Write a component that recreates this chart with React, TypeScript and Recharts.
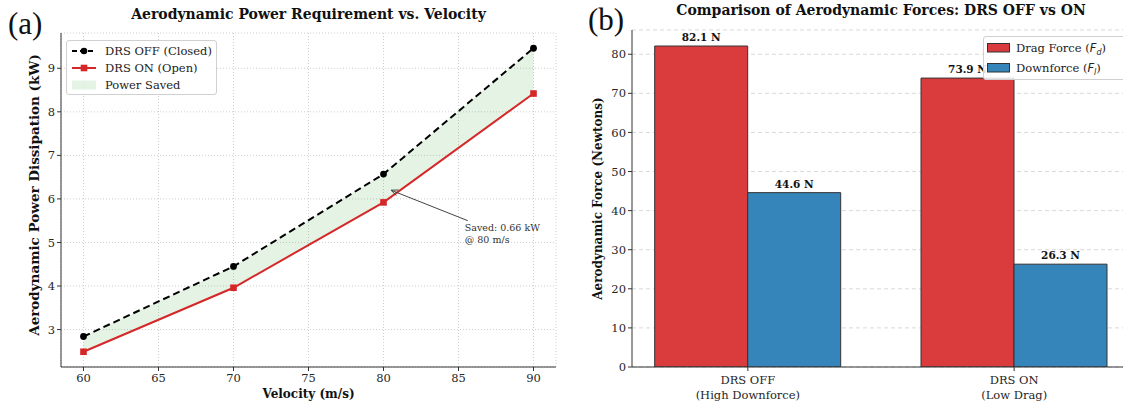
import React from 'react';
import {
  ComposedChart,
  Line,
  Area,
  XAxis,
  YAxis,
  CartesianGrid,
  ReferenceLine,
  ReferenceDot,
  BarChart,
  Bar,
  LabelList,
} from 'recharts';

// ---------- Data: panel (a) ----------
const velocities = [60, 70, 80, 90];
const powerDrsOff = [2.84, 4.45, 6.57, 9.46];
const powerDrsOn = [2.49, 3.96, 5.92, 8.42];
const velocityTicks = [60, 65, 70, 75, 80, 85, 90];
const powerTicks = [3, 4, 5, 6, 7, 8, 9];
const lineSeriesNames = ['DRS OFF (Closed)', 'DRS ON (Open)', 'Power Saved'];
const annotationLines = ['Saved: 0.66 kW', '@ 80 m/s'];

// ---------- Data: panel (b) ----------
const forceCategories = ['DRS OFF', 'DRS ON'];
const forceSubLabels = ['(High Downforce)', '(Low Drag)'];
const dragForce = [82.1, 73.9];
const downForce = [44.6, 26.3];
const forceTicks = [0, 10, 20, 30, 40, 50, 60, 70, 80];

const powerData = velocities.map((v, i) => ({
  v,
  off: powerDrsOff[i],
  on: powerDrsOn[i],
  band: [powerDrsOn[i], powerDrsOff[i]],
}));

const forceData = forceCategories.map((c, i) => ({
  x: i,
  name: c,
  drag: dragForce[i],
  down: downForce[i],
}));

const FONT = '"DejaVu Serif", serif';
const AXIS = '#333';
const TICK_FS = 11.5;
const TICK_STYLE = { fontFamily: FONT, fontSize: TICK_FS, fill: '#262626' };

function ArrowShape(props: any) {
  const { x1, y1, x2, y2 } = props;
  const ang = Math.atan2(y2 - y1, x2 - x1);
  const L = 7;
  const W = 3;
  const bx = x2 - L * Math.cos(ang);
  const by = y2 - L * Math.sin(ang);
  const px = -Math.sin(ang) * W;
  const py = Math.cos(ang) * W;
  return (
    <g>
      <line x1={x1} y1={y1} x2={x2} y2={y2} stroke="#444" strokeWidth={1} />
      <polyline
        points={`${bx + px},${by + py} ${x2},${y2} ${bx - px},${by - py}`}
        fill="none"
        stroke="#444"
        strokeWidth={1}
      />
    </g>
  );
}

function AnnotationText(props: any) {
  const { cx, cy } = props;
  return (
    <g>
      {annotationLines.map((t, i) => (
        <text
          key={t}
          x={cx}
          y={cy + 10 + i * 12}
          fontFamily={FONT}
          fontSize={9.5}
          fill="#333"
        >
          {t}
        </text>
      ))}
    </g>
  );
}

function SquareDot(props: any) {
  const { cx, cy, index } = props;
  return <rect key={`sq-${index}`} x={cx - 3.3} y={cy - 3.3} width={6.6} height={6.6} fill="#d62728" />;
}

function ForceTick(props: any) {
  const { x, y, payload } = props;
  const i = Number(payload.value);
  return (
    <g>
      <text x={x} y={y + 10.5} textAnchor="middle" fontFamily={FONT} fontSize={TICK_FS} fill="#262626">
        {forceCategories[i]}
      </text>
      <text x={x} y={y + 25.5} textAnchor="middle" fontFamily={FONT} fontSize={TICK_FS} fill="#262626">
        {forceSubLabels[i]}
      </text>
    </g>
  );
}

function yLabel(text: string, cxOffset: number, fontSize: number, dyCenter: number) {
  return (props: any) => {
    const vb = props.viewBox || {};
    const cx = (vb.x || 0) + cxOffset;
    const cy = (vb.y || 0) + (vb.height || 0) / 2 + dyCenter;
    return (
      <text
        x={cx}
        y={cy}
        transform={`rotate(-90 ${cx} ${cy})`}
        textAnchor="middle"
        dominantBaseline="middle"
        fontFamily={FONT}
        fontWeight="bold"
        fontSize={fontSize}
        fill="#111"
      >
        {text}
      </text>
    );
  };
}

function xLabel(text: string, dy: number) {
  return (props: any) => {
    const vb = props.viewBox || {};
    const cx = (vb.x || 0) + (vb.width || 0) / 2;
    const cy = (vb.y || 0) + dy;
    return (
      <text x={cx} y={cy} textAnchor="middle" fontFamily={FONT} fontWeight="bold" fontSize={12} fill="#111">
        {text}
      </text>
    );
  };
}

const legendRow: React.CSSProperties = {
  display: 'flex',
  alignItems: 'center',
  height: 17,
  whiteSpace: 'nowrap',
};

function LeftLegend() {
  return (
    <div
      style={{
        position: 'absolute',
        left: 66,
        top: 40,
        width: 151,
        height: 55,
        border: '1px solid #d0d0d0',
        borderRadius: 3,
        background: 'rgba(255,255,255,0.85)',
        boxSizing: 'border-box',
        padding: '1px 0 0 4px',
        fontFamily: FONT,
        fontSize: 11.5,
        color: '#222',
      }}
    >
      <div style={legendRow}>
        <svg width={26} height={10} style={{ marginRight: 8 }}>
          <line x1={1} y1={5} x2={25} y2={5} stroke="#000" strokeWidth={2} strokeDasharray="5 3" />
          <circle cx={13} cy={5} r={3.3} fill="#000" />
        </svg>
        {lineSeriesNames[0]}
      </div>
      <div style={legendRow}>
        <svg width={26} height={10} style={{ marginRight: 8 }}>
          <line x1={1} y1={5} x2={25} y2={5} stroke="#d62728" strokeWidth={2} />
          <rect x={9.7} y={1.7} width={6.6} height={6.6} fill="#d62728" />
        </svg>
        {lineSeriesNames[1]}
      </div>
      <div style={legendRow}>
        <svg width={26} height={10} style={{ marginRight: 8 }}>
          <rect x={1} y={0.5} width={24} height={9} fill="#2ca02c" fillOpacity={0.12} />
        </svg>
        {lineSeriesNames[2]}
      </div>
    </div>
  );
}

function RightLegend() {
  const sub = (s: string) => (
    <span style={{ fontFamily: '"DejaVu Sans", sans-serif', fontStyle: 'italic' }}>
      F<span style={{ fontSize: 8, position: 'relative', top: 2.5 }}>{s}</span>
    </span>
  );
  return (
    <div
      style={{
        position: 'absolute',
        left: 983,
        top: 36,
        width: 150,
        height: 44,
        border: '1px solid #d0d0d0',
        borderRadius: 3,
        background: 'rgba(255,255,255,0.85)',
        boxSizing: 'border-box',
        padding: '1px 0 0 3px',
        fontFamily: FONT,
        fontSize: 11.5,
        color: '#222',
      }}
    >
      <div style={{ ...legendRow, height: 20 }}>
        <svg width={24} height={10} style={{ marginRight: 5 }}>
          <rect x={0.5} y={0.5} width={22} height={8.5} fill="#da3c3e" stroke="#333" strokeWidth={1} />
        </svg>
        <span>Drag Force (</span>
        {sub('d')}
        <span>)</span>
      </div>
      <div style={{ ...legendRow, height: 20 }}>
        <svg width={24} height={10} style={{ marginRight: 5 }}>
          <rect x={0.5} y={0.5} width={22} height={8.5} fill="#3585bb" stroke="#333" strokeWidth={1} />
        </svg>
        <span>Downforce (</span>
        {sub('l')}
        <span>)</span>
      </div>
    </div>
  );
}

export default function App() {
  return (
    <div
      style={{
        position: 'absolute',
        left: 0,
        top: 0,
        width: 1123,
        height: 404,
        overflow: 'hidden',
        background: '#fff',
      }}
    >
      {/* Panel (a) */}
      <div style={{ position: 'absolute', left: 0, top: 0, width: 600, height: 404 }}>
        <ComposedChart
          width={600}
          height={404}
          data={powerData}
          margin={{ top: 33, right: 44, left: 0, bottom: 0 }}
        >
          <CartesianGrid stroke="#cfcfcf" strokeDasharray="1 2" />
          <XAxis
            type="number"
            dataKey="v"
            domain={[58.5, 91.5]}
            ticks={velocityTicks}
            allowDataOverflow
            height={37}
            tickSize={4}
            tickMargin={3}
            tick={TICK_STYLE}
            stroke={AXIS}
            label={xLabel('Velocity (m/s)', 31)}
          />
          <XAxis
            xAxisId="top"
            orientation="top"
            type="number"
            dataKey="v"
            domain={[58.5, 91.5]}
            allowDataOverflow
            height={0}
            tick={false}
            tickLine={false}
            stroke={AXIS}
          />
          <YAxis
            type="number"
            domain={[2.14, 9.81]}
            ticks={powerTicks}
            allowDataOverflow
            width={61}
            tickSize={4}
            tick={TICK_STYLE}
            stroke={AXIS}
            label={yLabel('Aerodynamic Power Dissipation (kW)', 35, 13.5, -5)}
          />
          <YAxis
            yAxisId="right"
            orientation="right"
            domain={[2.14, 9.81]}
            allowDataOverflow
            width={0}
            tick={false}
            tickLine={false}
            stroke={AXIS}
          />
          <Area
            dataKey="band"
            type="linear"
            fill="#2ca02c"
            fillOpacity={0.12}
            stroke="none"
            isAnimationActive={false}
            activeDot={false}
          />
          <Line
            dataKey="off"
            type="linear"
            stroke="#000"
            strokeWidth={2}
            strokeDasharray="7 4"
            dot={{ r: 3.4, fill: '#000', stroke: '#000', strokeWidth: 0 }}
            activeDot={false}
            isAnimationActive={false}
          />
          <Line
            dataKey="on"
            type="linear"
            stroke="#d62728"
            strokeWidth={2}
            dot={SquareDot}
            activeDot={false}
            isAnimationActive={false}
          />
          <ReferenceLine
            segment={[
              { x: 85.62, y: 5.5 },
              { x: 80.5, y: 6.2 },
            ]}
            shape={ArrowShape}
            ifOverflow="visible"
          />
          <ReferenceDot x={85.42} y={5.49} r={0} shape={AnnotationText} ifOverflow="visible" />
        </ComposedChart>
      </div>

      {/* Panel (b) */}
      <div style={{ position: 'absolute', left: 570, top: 0, width: 600, height: 404 }}>
        <BarChart
          width={600}
          height={404}
          data={forceData}
          margin={{ top: 30, right: 40, left: 0, bottom: 0 }}
          barGap={0}
        >
          <CartesianGrid vertical={false} stroke="#d9d9d9" strokeDasharray="4 3" />
          <XAxis
            type="number"
            dataKey="x"
            domain={[-0.435, 1.435]}
            ticks={[0, 1]}
            allowDataOverflow
            height={37}
            tickSize={4}
            tick={ForceTick}
            stroke={AXIS}
          />
          <XAxis
            xAxisId="top"
            orientation="top"
            type="number"
            dataKey="x"
            domain={[-0.435, 1.435]}
            allowDataOverflow
            height={0}
            tick={false}
            tickLine={false}
            stroke={AXIS}
          />
          <YAxis
            type="number"
            domain={[0, 86.2]}
            ticks={forceTicks}
            allowDataOverflow
            width={62}
            tickSize={4}
            tick={TICK_STYLE}
            stroke={AXIS}
            label={yLabel('Aerodynamic Force (Newtons)', 28, 12, 0)}
          />
          <Bar dataKey="drag" barSize={93} fill="#da3c3e" stroke="#333" strokeWidth={1} isAnimationActive={false}>
            <LabelList
              dataKey="drag"
              position="top"
              offset={5}
              formatter={(v: any) => `${v} N`}
              style={{ fontFamily: FONT, fontWeight: 'bold', fontSize: 10.5, fill: '#111' }}
            />
          </Bar>
          <Bar dataKey="down" barSize={93} fill="#3585bb" stroke="#333" strokeWidth={1} isAnimationActive={false}>
            <LabelList
              dataKey="down"
              position="top"
              offset={5}
              formatter={(v: any) => `${v} N`}
              style={{ fontFamily: FONT, fontWeight: 'bold', fontSize: 10.5, fill: '#111' }}
            />
          </Bar>
        </BarChart>
      </div>

      <LeftLegend />
      <RightLegend />

      {/* Titles and panel letters */}
      <div
        style={{
          position: 'absolute',
          left: 61,
          width: 495,
          top: 6,
          textAlign: 'center',
          fontFamily: FONT,
          fontWeight: 'bold',
          fontSize: 14,
          color: '#111',
          whiteSpace: 'nowrap',
        }}
      >
        Aerodynamic Power Requirement vs. Velocity
      </div>
      <div
        style={{
          position: 'absolute',
          left: 632,
          width: 498,
          top: 2,
          textAlign: 'center',
          fontFamily: FONT,
          fontWeight: 'bold',
          fontSize: 14,
          color: '#111',
          whiteSpace: 'nowrap',
        }}
      >
        Comparison of Aerodynamic Forces: DRS OFF vs ON
      </div>
      <div
        style={{
          position: 'absolute',
          left: 8,
          top: 7,
          fontFamily: '"Liberation Serif", serif',
          fontSize: 31,
          lineHeight: '34px',
          color: '#111',
        }}
      >
        (a)
      </div>
      <div
        style={{
          position: 'absolute',
          left: 588,
          top: 3,
          fontFamily: '"Liberation Serif", serif',
          fontSize: 31,
          lineHeight: '34px',
          color: '#111',
        }}
      >
        (b)
      </div>
    </div>
  );
}
